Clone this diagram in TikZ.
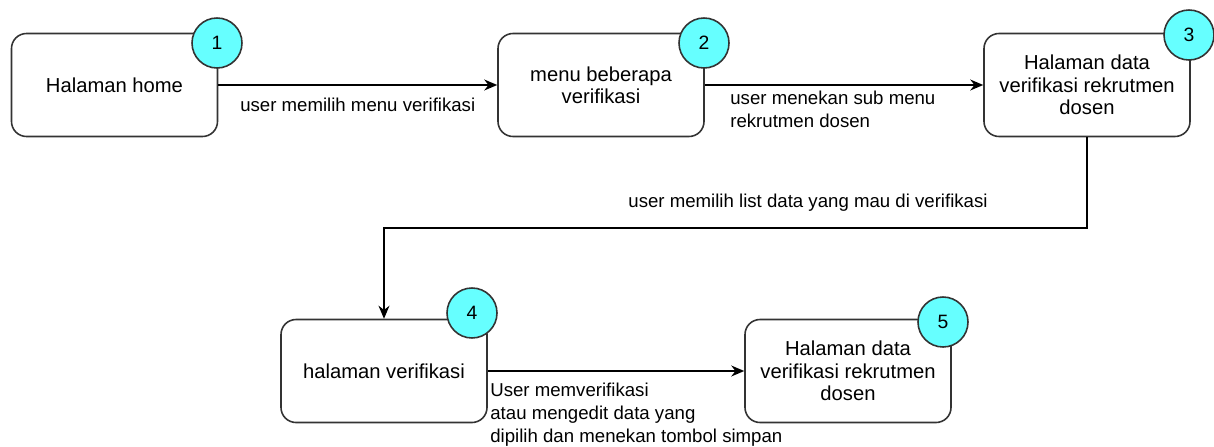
\documentclass[tikz,border=0pt]{standalone}
\usepackage{fontspec}
\setmainfont{Liberation Sans}
\usepackage{xcolor}
\usepackage{tikz}
\usetikzlibrary{positioning,calc,arrows.meta}
\definecolor{numfill}{HTML}{66FFFF}

\begin{document}
\begin{tikzpicture}[
    page/.style={rectangle, draw=black!80, rounded corners=0.3cm, line width=0.9pt, minimum width=4.12cm, minimum height=2.06cm, align=center, font=\fontsize{11.5}{12.75}\selectfont},
    num/.style={circle, draw=black!80, fill=numfill, line width=0.9pt, minimum size=1cm, inner sep=0pt, font=\fontsize{11}{13}\selectfont},
    lbl/.style={align=left, inner sep=0pt, font=\fontsize{10.6}{13}\selectfont},
    arrow/.style={->, >={Stealth[length=2.6mm,width=2.2mm]}, thick}
]
    \useasboundingbox (0,0) rectangle (24.28,-8.92);

    \node[page] (home) at (2.29,-1.70) {Halaman home};
    \node[page] (menu) at (12.02,-1.70) {menu beberapa\\verifikasi};
    \node[page] (data) at (21.74,-1.70) {Halaman data\\verifikasi rekrutmen\\dosen};
    \node[page] (verif) at (7.68,-7.42) {halaman verifikasi};
    \node[page] (hasil) at (16.96,-7.42) {Halaman data\\verifikasi rekrutmen\\dosen};

    \node[num] (n1) at (4.34,-0.86) {1};
    \node[num] (n2) at (14.08,-0.86) {2};
    \node[num] (n3) at (23.78,-0.70) {3};
    \node[num] (n4) at (9.44,-6.26) {4};
    \node[num] (n5) at (18.86,-6.44) {5};

    \coordinate (turn) at (7.68,-4.56);

    \draw[arrow] (home) -- (menu) node[midway, below=0.25cm, lbl] (l1) {user memilih menu verifikasi};
    \draw[arrow] (menu) -- (data);
    \node[lbl, anchor=north west] (l2) at (14.60,-1.82) {user menekan sub menu\\rekrutmen dosen};
    \draw[arrow] (data.south) |- (turn) -- (verif.north);
    \node[lbl] (l3) at (16.16,-4.06) {user memilih list data yang mau di verifikasi};
    \draw[arrow] (verif) -- (hasil);
    \node[lbl, anchor=north west] (l4) at (9.80,-7.66) {User memverifikasi\\atau mengedit data yang\\dipilih dan menekan tombol simpan};
\end{tikzpicture}
\end{document}
